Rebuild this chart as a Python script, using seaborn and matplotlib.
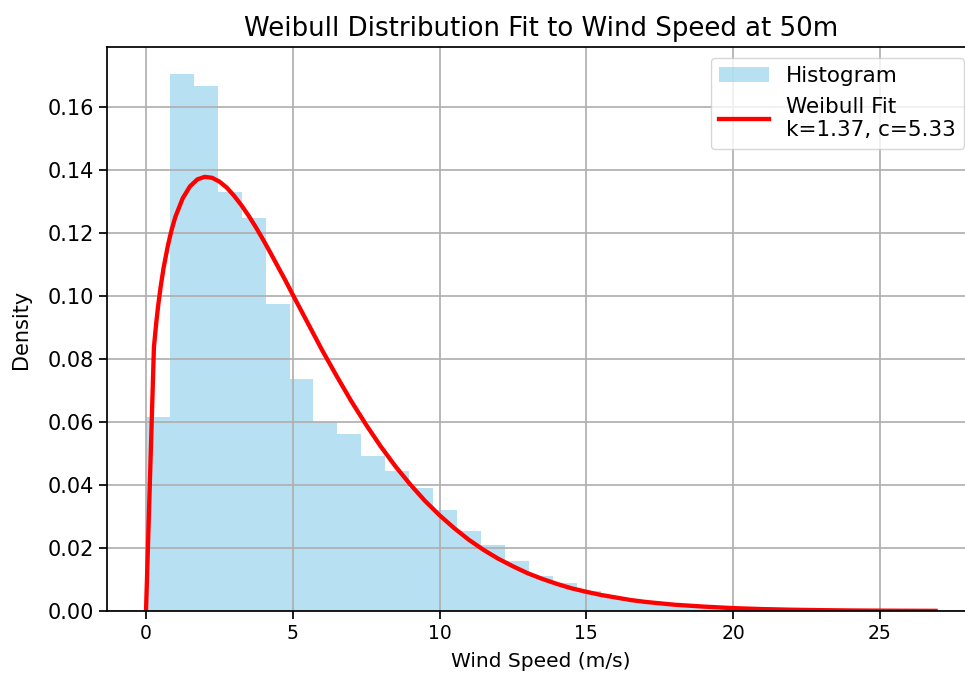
import numpy as np
import pandas as pd
import seaborn as sns
import matplotlib.pyplot as plt

# histogram (density), 33 bins from 0 to 26.9 m/s
bin_count = 33
speed_min = 0.0
speed_max = 26.9
hist_density = [0.0617, 0.1705, 0.1667, 0.1329, 0.1249, 0.0975, 0.0736, 0.0600,
                0.0563, 0.0492, 0.0443, 0.0390, 0.0321, 0.0255, 0.0208, 0.0159,
                0.0111, 0.0088, 0.0062, 0.0045, 0.0030, 0.0021, 0.0014, 0.0010,
                0.0007, 0.0005, 0.0003, 0.0002, 0.0002, 0.0001, 0.0001, 0.0, 0.0001]

# fitted Weibull curve (k=1.37, c=5.33)
fit_x = [0, 0.27, 0.35, 0.42, 0.5, 0.6, 0.75, 0.87, 1.0, 1.25, 1.5, 1.75, 2.0,
         2.25, 2.5, 2.75, 3.0, 3.25, 3.5, 3.75, 4.0, 4.25, 4.5, 4.75, 5.0,
         5.25, 5.5, 5.75, 6, 6.5, 7, 7.5, 8, 8.5, 9, 9.5, 10, 10.5, 11, 11.5,
         12, 12.5, 13, 13.5, 14, 14.5, 15, 15.5, 16, 16.5, 17, 18, 19, 20, 21,
         22, 23, 24, 25, 26.9]
fit_y = [0, 0.0838, 0.0916, 0.0974, 0.1030, 0.1090, 0.1162, 0.1209, 0.1251,
         0.1310, 0.1348, 0.1370, 0.1378, 0.1375, 0.1363, 0.1344, 0.1318,
         0.1288, 0.1254, 0.1217, 0.1177, 0.1135, 0.1092, 0.1049, 0.1004,
         0.0960, 0.0916, 0.0872, 0.0828, 0.0745, 0.0665, 0.0591, 0.0522,
         0.0459, 0.0402, 0.0350, 0.0304, 0.0263, 0.0226, 0.0194, 0.0166,
         0.0142, 0.0120, 0.0102, 0.0086, 0.0072, 0.0061, 0.0051, 0.0043,
         0.0035, 0.0029, 0.0020, 0.0014, 0.00092, 0.00061, 0.00041, 0.00027,
         0.00017, 0.00011, 0.00005]
k_shape = 1.37
c_scale = 5.33

edges = np.linspace(speed_min, speed_max, bin_count + 1)
hist_df = pd.DataFrame({"speed": (edges[:-1] + edges[1:]) / 2, "density": hist_density})
fit_df = pd.DataFrame({"speed": fit_x, "pdf": fit_y})

fig = plt.figure(figsize=(9.65, 6.75), dpi=100)
ax = fig.add_axes([0.1104, 0.0948, 0.9, 0.8356])

sns.histplot(data=hist_df, x="speed", weights="density", bins=bin_count,
             binrange=(speed_min, speed_max), stat="count",
             color="skyblue", alpha=0.6, linewidth=0, label="Histogram", ax=ax)
sns.lineplot(data=fit_df, x="speed", y="pdf", color="red", linewidth=3.1,
             label=f"Weibull Fit\nk={k_shape:.2f}, c={c_scale:.2f}", ax=ax)

ax.grid(True, linewidth=1.25)
ax.set_title("Weibull Distribution Fit to Wind Speed at 50m", fontsize=18.7, pad=8)
ax.set_xlabel("Wind Speed (m/s)", fontsize=14.5, labelpad=7)
ax.set_ylabel("Density", fontsize=15, labelpad=12)
ax.tick_params(axis="x", labelsize=13.5, width=1.25, length=5.5)
ax.tick_params(axis="y", labelsize=15, width=1.25, length=5.5)
for sp in ax.spines.values():
    sp.set_linewidth(1.25)
ax.spines["right"].set_visible(False)

handles, labels = ax.get_legend_handles_labels()
order = sorted(range(len(labels)), key=lambda i: 0 if labels[i] == "Histogram" else 1)
ax.legend([handles[i] for i in order], [labels[i] for i in order],
          loc="upper right", fontsize=15.5, handlelength=2.3)

plt.savefig("out.png", dpi=100)
